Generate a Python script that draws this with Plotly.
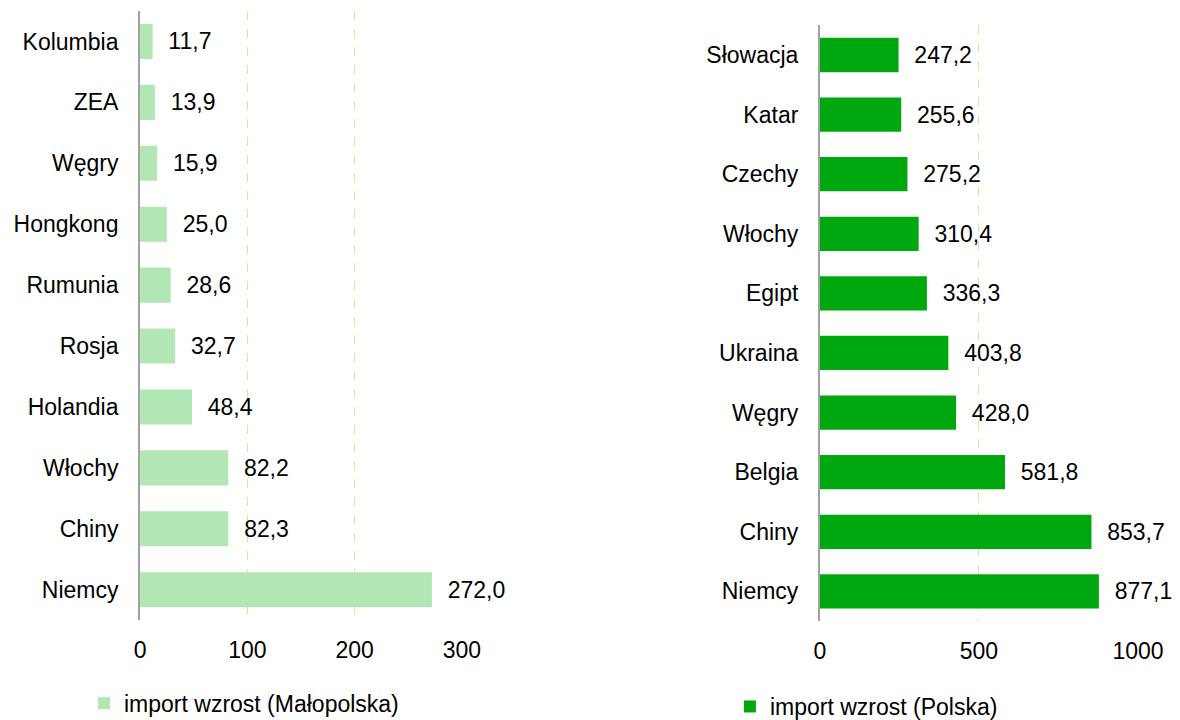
import plotly.graph_objects as go
from plotly.subplots import make_subplots

# Małopolska - import growth
malo_countries = ['Niemcy', 'Chiny', 'Włochy', 'Holandia', 'Rosja', 'Rumunia',
                  'Hongkong', 'Węgry', 'ZEA', 'Kolumbia']
malo_values = [272.0, 82.3, 82.2, 48.4, 32.7, 28.6, 25.0, 15.9, 13.9, 11.7]

# Polska - import growth
pl_countries = ['Niemcy', 'Chiny', 'Belgia', 'Węgry', 'Ukraina', 'Egipt',
                'Włochy', 'Czechy', 'Katar', 'Słowacja']
pl_values = [877.1, 853.7, 581.8, 428.0, 403.8, 336.3, 310.4, 275.2, 255.6, 247.2]

malo_ticks = [0, 100, 200, 300]
pl_ticks = [0, 500, 1000]


def pl_fmt(v):
    return f"{v:.1f}".replace('.', ',')


FONT = 'Arial, Liberation Sans, sans-serif'
FS = 23
GRID = '#d6e6a0'

fig = make_subplots(rows=1, cols=2)

fig.add_trace(go.Bar(
    x=malo_values, y=malo_countries, orientation='h',
    marker=dict(color='#b3e6b5', line=dict(width=0)),
    width=0.575,
    text=[pl_fmt(v) for v in malo_values], texttemplate='  %{text}',
    textposition='outside', cliponaxis=False,
    textfont=dict(size=FS, color='black', family=FONT),
    name='import wzrost (Małopolska)', legend='legend'
), row=1, col=1)

fig.add_trace(go.Bar(
    x=pl_values, y=pl_countries, orientation='h',
    marker=dict(color='#00a80f', line=dict(width=0)),
    width=0.575,
    text=[pl_fmt(v) for v in pl_values], texttemplate='  %{text}',
    textposition='outside', cliponaxis=False,
    textfont=dict(size=FS, color='black', family=FONT),
    name='import wzrost (Polska)', legend='legend2'
), row=1, col=2)

# page body has an 8px margin, domains are offset to compensate
fig.update_xaxes(showgrid=True, gridcolor=GRID, griddash='dash', gridwidth=1,
                 zeroline=False, showline=False, automargin=False,
                 tickfont=dict(size=FS, color='black', family=FONT),
                 ticks='', ticklabelstandoff=14)
fig.update_xaxes(range=[0, 300], tickvals=malo_ticks, domain=[0.1119, 0.3847], row=1, col=1)
fig.update_xaxes(range=[0, 1000], tickvals=pl_ticks, domain=[0.6881, 0.9576], row=1, col=2)

fig.update_yaxes(showgrid=False, showline=True, linecolor='#a0a0a0', linewidth=2,
                 automargin=False,
                 tickfont=dict(size=FS, color='black', family=FONT),
                 ticks='', ticklabelstandoff=15, categoryorder='array')
fig.update_yaxes(categoryarray=malo_countries, domain=[0.1390, 0.9958], row=1, col=1)
fig.update_yaxes(categoryarray=pl_countries, domain=[0.1376, 0.9758], row=1, col=2)

fig.update_layout(
    width=1180, height=720,
    margin=dict(l=0, r=0, t=0, b=0),
    plot_bgcolor='white', paper_bgcolor='white',
    font=dict(family=FONT, size=FS, color='black'),
    showlegend=True,
    legend=dict(x=0.0644, y=0.022, xanchor='left', yanchor='middle',
                font=dict(size=FS, family=FONT), bgcolor='rgba(0,0,0,0)'),
    legend2=dict(x=0.6118, y=0.017, xanchor='left', yanchor='middle',
                 font=dict(size=FS, family=FONT), bgcolor='rgba(0,0,0,0)'),
)

fig.write_html("out.html")
